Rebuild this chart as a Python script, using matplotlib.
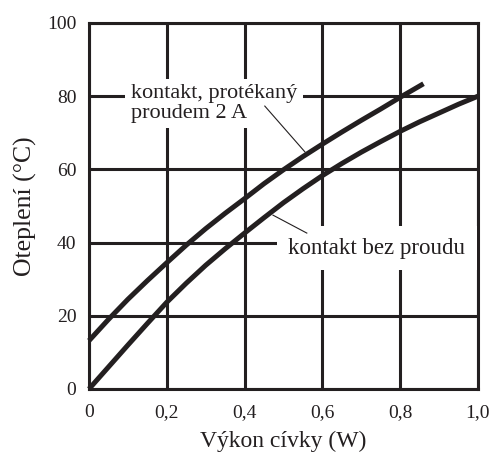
import matplotlib
matplotlib.use("Agg")
import matplotlib.pyplot as plt

# Data
x_upper = [0.0, 0.05, 0.1, 0.15, 0.2, 0.25, 0.3, 0.35, 0.4, 0.45, 0.5, 0.55,
           0.6, 0.65, 0.7, 0.75, 0.8, 0.86]
y_upper = [13.2, 19.0, 24.5, 29.6, 34.5, 39.3, 43.8, 48.0, 52.0, 56.1, 59.9, 63.5,
           66.9, 70.2, 73.4, 76.5, 79.7, 83.4]
x_lower = [0.0, 0.05, 0.1, 0.15, 0.2, 0.25, 0.3, 0.35, 0.4, 0.45, 0.5, 0.55,
           0.6, 0.65, 0.7, 0.75, 0.8, 0.85, 0.9, 0.95, 1.0]
y_lower = [0.0, 6.0, 12.0, 17.9, 23.7, 28.9, 33.8, 38.3, 42.6, 46.8, 50.9, 54.7,
           58.3, 61.6, 64.7, 67.6, 70.4, 73.0, 75.4, 77.8, 80.0]

x_ticks = [0.0, 0.2, 0.4, 0.6, 0.8, 1.0]
x_ticklabels = ["0", "0,2", "0,4", "0,6", "0,8", "1,0"]
y_ticks = [0, 20, 40, 60, 80, 100]
y_ticklabels = ["0", "20", "40", "60", "80", "100"]

label_upper = "kontakt, protékaný\nproudem 2 A"
label_lower = "kontakt bez proudu"
xlabel = "Výkon cívky (W)"
ylabel = "Oteplení (°C)"

ink = "#231f20"
plt.rcParams['font.family'] = ['Liberation Serif', 'DejaVu Serif']

fig = plt.figure(figsize=(4.93, 4.57), dpi=100)
ax = fig.add_axes([0.1805, 0.1488, 0.789, 0.8009])
ax.set_xlim(0, 1.0)
ax.set_ylim(0, 100)

ax.set_xticks(x_ticks)
ax.set_xticklabels(x_ticklabels)
ax.set_yticks(y_ticks)
ax.set_yticklabels(y_ticklabels)
ax.tick_params(length=0, labelsize=14, colors=ink, pad=9)
ax.tick_params(axis='x', pad=11)

ax.grid(True, color=ink, linewidth=2.2, zorder=1)
ax.set_axisbelow(True)
for s in ax.spines.values():
    s.set_linewidth(2.2)
    s.set_color(ink)
    s.set_zorder(2)

ax.plot(x_upper, y_upper, color=ink, linewidth=3.6, solid_capstyle='butt',
        solid_joinstyle='round', zorder=4, clip_on=False)
ax.plot(x_lower, y_lower, color=ink, linewidth=3.6, solid_capstyle='butt',
        solid_joinstyle='round', zorder=4, clip_on=False)

# leader lines
ax.plot([0.452, 0.555], [77.3, 64.8], color=ink, linewidth=0.8, zorder=4)
ax.plot([0.473, 0.560], [47.5, 42.6], color=ink, linewidth=0.8, zorder=4)

ax.text(0.108, 78.0, label_upper, ha='left', va='center', fontsize=16, color=ink,
        linespacing=1.05, zorder=3,
        bbox=dict(facecolor='white', edgecolor='none', boxstyle='square,pad=0.25'))
ax.text(0.512, 38.5, label_lower, ha='left', va='center', fontsize=16.5, color=ink,
        zorder=3,
        bbox=dict(facecolor='white', edgecolor='none', boxstyle='square,pad=0.5'))

ax.set_xlabel(xlabel, fontsize=17, color=ink, labelpad=7)
ax.set_ylabel(ylabel, fontsize=18.5, color=ink, labelpad=7)

fig.savefig("out.png", dpi=100, facecolor='white')
